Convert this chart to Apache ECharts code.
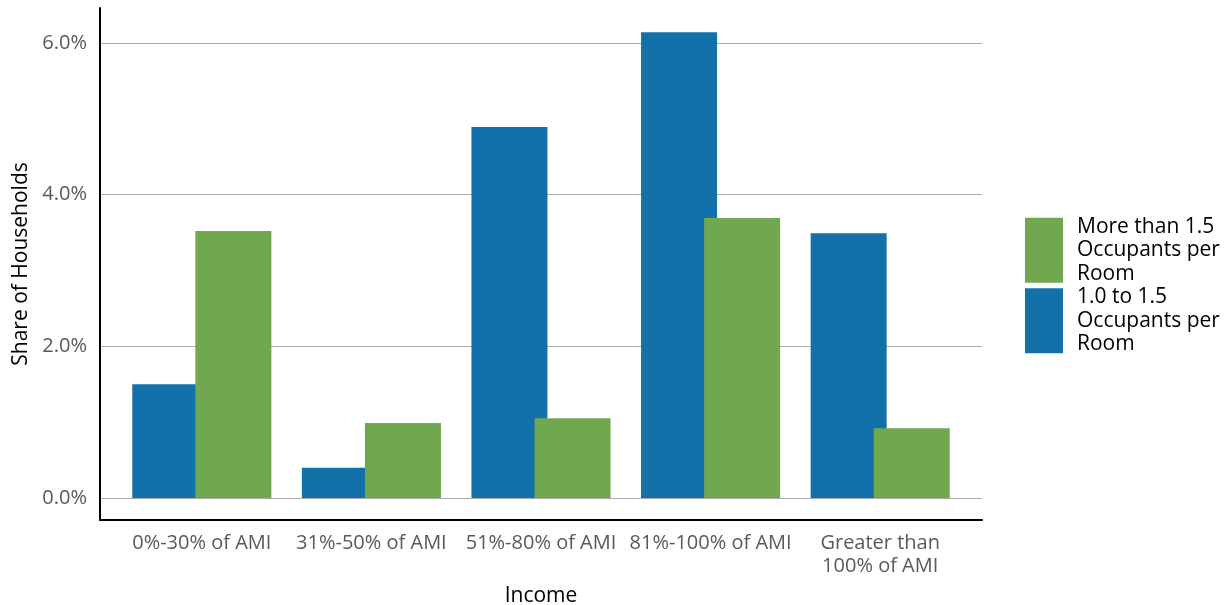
<!DOCTYPE html>
<html>
<head>
<meta charset="utf-8">
<script src="https://cdn.jsdelivr.net/npm/echarts@6/dist/echarts.min.js"></script>
<style>html,body{margin:0;padding:0;background:#fff}#c{width:1228px;height:605px}</style>
</head>
<body>
<div id="c"></div>
<script>
const categories = ["0%-30% of AMI", "31%-50% of AMI", "51%-80% of AMI", "81%-100% of AMI", "Greater than\n100% of AMI"];
const seriesNames = ["1.0 to 1.5 Occupants per Room", "More than 1.5 Occupants per Room"];
const legendLabels = ["1.0 to 1.5\nOccupants per\nRoom", "More than 1.5\nOccupants per\nRoom"];
const blueValues = [1.50, 0.40, 4.89, 6.14, 3.49];
const greenValues = [3.52, 0.99, 1.05, 3.69, 0.92];
const yTicks = [0, 2, 4, 6];

const FONT = "Open Sans";
const yMin = -0.29, yMax = 6.46;

const chart = echarts.init(document.getElementById('c'), null, {renderer: 'canvas'});
chart.setOption({
  animation: false,
  textStyle: {fontFamily: FONT},
  grid: [
    {left: 100, right: 246, top: 8, bottom: 85, containLabel: false, outerBoundsMode: 'none'},
    {left: 117, right: 263, top: 8, bottom: 85, containLabel: false, outerBoundsMode: 'none'}
  ],
  legend: {
    orient: 'vertical',
    left: 1025, top: 215, padding: 0,
    itemWidth: 38, itemHeight: 65, itemGap: 0,
    icon: 'rect',
    data: [seriesNames[1], seriesNames[0]],
    formatter: function (n) { return legendLabels[seriesNames.indexOf(n)]; },
    textStyle: {fontFamily: FONT, fontSize: 21, color: '#000', lineHeight: 23.5, padding: [0,0,0,9]}
  },
  xAxis: [
    {
      gridIndex: 0, type: 'value', min: 0, max: 1,
      axisLine: {show: true, onZero: false, lineStyle: {color: '#000', width: 2}},
      axisTick: {show: false}, axisLabel: {show: false}, splitLine: {show: false},
      name: 'Income', nameLocation: 'middle', nameGap: 66,
      nameTextStyle: {fontFamily: FONT, fontSize: 21, color: '#000'}
    },
    {
      gridIndex: 1, type: 'category', data: categories,
      axisLine: {show: false}, axisTick: {show: false},
      axisLabel: {fontFamily: FONT, fontSize: 20, color: '#595959', margin: 12, lineHeight: 23, interval: 0}
    }
  ],
  yAxis: [
    {
      gridIndex: 0, type: 'value', min: yMin, max: yMax,
      axisLine: {show: true, onZero: false, lineStyle: {color: '#000', width: 2}},
      axisTick: {show: false, customValues: yTicks},
      axisLabel: {customValues: yTicks, formatter: function (v) { return v.toFixed(1) + '%'; },
        fontFamily: FONT, fontSize: 20, color: '#595959', margin: 13},
      splitLine: {show: true, lineStyle: {color: '#ababab', width: 1}},
      name: 'Share of Households', nameLocation: 'middle', nameGap: 66, nameRotate: 90,
      nameTextStyle: {fontFamily: FONT, fontSize: 21, color: '#000'}
    },
    {gridIndex: 1, type: 'value', min: yMin, max: yMax, show: false, splitLine: {show: false}}
  ],
  series: [
    {name: seriesNames[0], type: 'bar', xAxisIndex: 1, yAxisIndex: 1, data: blueValues,
     barWidth: 76, barGap: '-17%', itemStyle: {color: '#1271a8'}},
    {name: seriesNames[1], type: 'bar', xAxisIndex: 1, yAxisIndex: 1, data: greenValues,
     barWidth: 76, barGap: '-17%', itemStyle: {color: '#70a84f'}}
  ]
});
</script>
</body>
</html>
